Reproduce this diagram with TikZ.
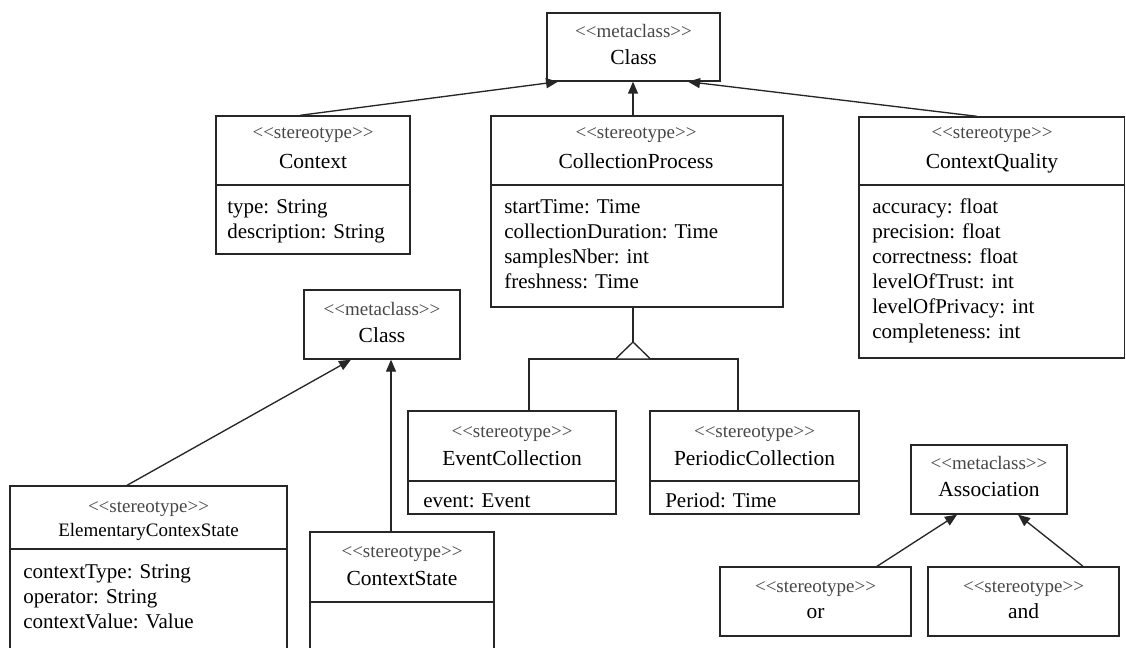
\documentclass[tikz,border=0pt]{standalone}
\usepackage{fontspec}
\setmainfont{Liberation Serif}
\usetikzlibrary{arrows.meta,fit}
% stereotype label with guarded angle brackets (no guillemet ligature)
\newcommand\stt[1]{<{}<#1>{}>}
\begin{document}
\begin{tikzpicture}[x=0.75pt,y=-0.75pt,
  line/.style={draw=black!85,line width=1pt},
  box/.style={line,inner sep=0pt,fit={#1}},
  ster/.style={font=\fontsize{14.25}{16}\selectfont,text=black!72,inner sep=0pt,text height=10pt,text depth=3pt},
  cname/.style={font=\fontsize{16.1}{18}\selectfont,inner sep=0pt,text height=11.2pt,text depth=3.4pt},
  sname/.style={font=\fontsize{14.25}{16}\selectfont,inner sep=0pt,text height=10pt,text depth=3pt},
  attr/.style={font=\fontsize{15.75}{18}\selectfont,anchor=west,inner sep=0pt,text height=11pt,text depth=3.4pt},
  inh/.style={line,-{Triangle[length=9pt,width=7.5pt]}}]
\clip (0,0) rectangle (1126,648);
\fill[white] (0,0) rectangle (1126,648);

% ---- class boxes
\node[box={(547,13)(720,81)}] (cls) {};
\node[box={(216,116)(410,254)}] (ctx) {};
\node[box={(491,116)(783,307)}] (cp) {};
\node[box={(859,117)(1124.5,358)}] (cq) {};
\node[box={(304,290)(460,359)}] (mcls) {};
\node[box={(408,411)(616,514)}] (ec) {};
\node[box={(650,411)(859,514)}] (pc) {};
\node[box={(911,445)(1067,514)}] (asc) {};
\node[box={(720,567)(911,636)}] (orb) {};
\node[box={(928,567)(1119,636)}] (andb) {};
\node[box={(10,486)(287,670)}] (el) {};
\node[box={(310,532)(494,670)}] (cs) {};

% ---- compartment dividers
\draw[line] (ctx.west |- 0,185) -- (ctx.east |- 0,185);
\draw[line] (cp.west |- 0,185) -- (cp.east |- 0,185);
\draw[line] (cq.west |- 0,185) -- (cq.east |- 0,185);
\draw[line] (ec.west |- 0,481) -- (ec.east |- 0,481);
\draw[line] (pc.west |- 0,481) -- (pc.east |- 0,481);
\draw[line] (el.west |- 0,549) -- (el.east |- 0,549);
\draw[line] (cs.west |- 0,602) -- (cs.east |- 0,602);

% ---- headers
\node[ster] (clsS) at (633.5,33) {\stt{metaclass}};
\node[cname] (clsN) at (633.5,59) {Class};
\node[ster] (ctxS) at (313,134) {\stt{stereotype}};
\node[cname] (ctxN) at (313,163) {Context};
\node[ster] (cpS) at (636,134) {\stt{stereotype}};
\node[cname] (cpN) at (636,163) {CollectionProcess};
\node[ster] (cqS) at (992,134) {\stt{stereotype}};
\node[cname] (cqN) at (992,163) {ContextQuality};
\node[ster] (mclsS) at (382,311) {\stt{metaclass}};
\node[cname] (mclsN) at (382,337) {Class};
\node[ster] (ecS) at (512,433) {\stt{stereotype}};
\node[cname] (ecN) at (512,460) {EventCollection};
\node[ster] (pcS) at (754.5,433) {\stt{stereotype}};
\node[cname] (pcN) at (754.5,460) {PeriodicCollection};
\node[ster] (ascS) at (989,465) {\stt{metaclass}};
\node[cname] (ascN) at (989,491) {Association};
\node[ster] (orS) at (815.5,588) {\stt{stereotype}};
\node[cname] (orN) at (815.5,613) {or};
\node[ster] (andS) at (1023.5,588) {\stt{stereotype}};
\node[cname] (andN) at (1023.5,613) {and};
\node[ster] (elS) at (148.5,508) {\stt{stereotype}};
\node[sname] (elN) at (148.5,532) {ElementaryContexState};
\node[ster] (csS) at (402,553) {\stt{stereotype}};
\node[cname] (csN) at (402,580) {ContextState};

% ---- attributes
\foreach \t [count=\i] in {type: String,description: String}
  \node[attr] (ctxA\i) at (227,{208+25*(\i-1)}) {\t};
\foreach \t [count=\i] in {startTime: Time,collectionDuration: Time,samplesNber: int,freshness: Time}
  \node[attr] (cpA\i) at (504,{208+25*(\i-1)}) {\t};
\foreach \t [count=\i] in {accuracy: float,precision: float,correctness: float,levelOfTrust: int,levelOfPrivacy: int,completeness: int}
  \node[attr] (cqA\i) at (872,{208+25*(\i-1)}) {\t};
\node[attr] (ecA1) at (423,502) {event: Event};
\node[attr] (pcA1) at (665,502) {Period: Time};
\foreach \t [count=\i] in {contextType: String,operator: String,contextValue: Value}
  \node[attr] (elA\i) at (23,{573+25*(\i-1)}) {\t};

% ---- extension arrows to metaclasses
\draw[inh] (ctx.north -| 300,0) -- (cls.south -| 558,0);
\draw[inh] (cp.north -| 633,0) -- (cls.south -| 633,0);
\draw[inh] (cq.north -| 977,0) -- (cls.south -| 688,0);
\draw[inh] (el.north -| 127,0) -- (mcls.south -| 351,0);
\draw[inh] (cs.north -| 391,0) -- (mcls.south -| 391,0);
\draw[inh] (orb.north -| 877,0) -- (asc.south -| 957,0);
\draw[inh] (andb.north -| 1083,0) -- (asc.south -| 1018,0);

% ---- generalization of CollectionProcess
\coordinate (gen) at (633,342);
\draw[line] (cp.south -| gen) -- (gen);
\draw[line] (ec.north -| 529,0) -- (529,359) -- (738,359) -- (pc.north -| 738,0);
\draw[line,fill=white] (gen) -- (650.5,359) -- (615.5,359) -- cycle;
\end{tikzpicture}
\end{document}
